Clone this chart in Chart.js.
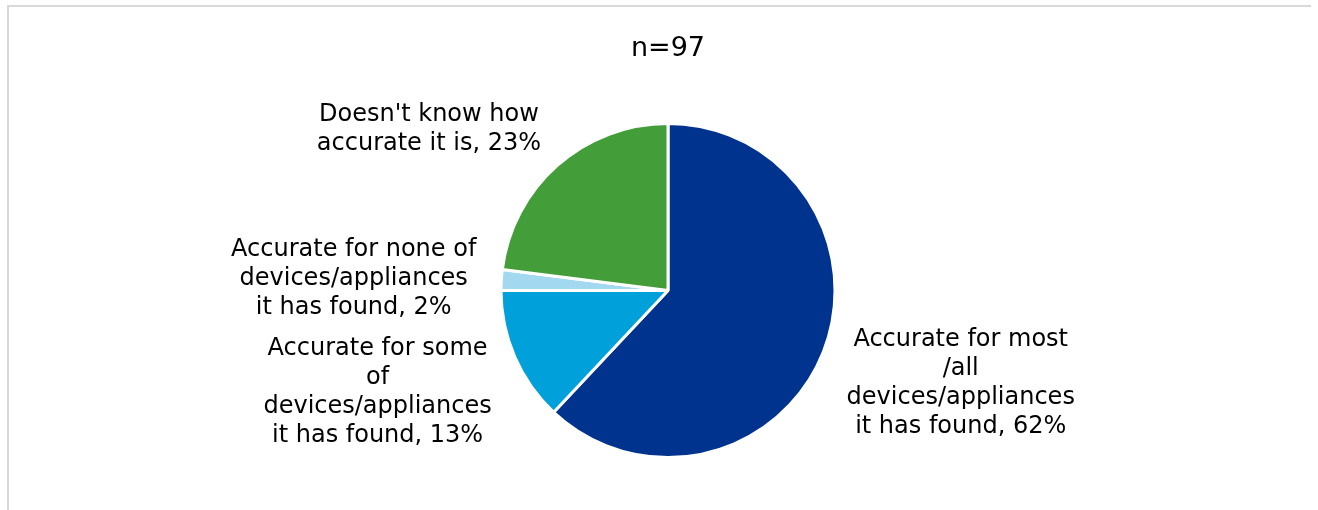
<!DOCTYPE html>
<html>
<head>
<meta charset="utf-8">
<script src="https://cdn.jsdelivr.net/npm/chart.js@4.4.1/dist/chart.umd.min.js"></script>
<style>
html,body{margin:0;padding:0;background:#fff;}
#wrap{position:relative;width:1318px;height:510px;}
</style>
</head>
<body>
<div id="wrap"><canvas id="c" width="1318" height="510"></canvas></div>
<script>
const titleText = "n=97";
const categories = [
  ["Accurate for most", "/all", "devices/appliances", "it has found, 62%"],
  ["Accurate for some", "of", "devices/appliances", "it has found, 13%"],
  ["Accurate for none of", "devices/appliances", "it has found, 2%"],
  ["Doesn't know how", "accurate it is, 23%"]
];
const values = [62, 13, 2, 23];
const colors = ["#00338D", "#00A0DB", "#A2D9F1", "#439D39"];

const decor = {
  id: "decor",
  beforeDraw(chart) {
    const ctx = chart.ctx;
    ctx.save();
    ctx.strokeStyle = "#D9D9D9";
    ctx.lineWidth = 2;
    ctx.beginPath();
    ctx.moveTo(8, 510);
    ctx.lineTo(8, 6);
    ctx.lineTo(1311, 6);
    ctx.stroke();
    ctx.restore();
  },
  afterDraw(chart) {
    const ctx = chart.ctx;
    ctx.save();
    ctx.fillStyle = "#000";
    ctx.textAlign = "center";
    ctx.textBaseline = "middle";
    ctx.font = "27px 'DejaVu Sans'";
    const area = chart.chartArea;
    ctx.fillText(titleText, (area.left + area.right) / 2, 49);
    ctx.font = "24px 'DejaVu Sans'";
    const meta = chart.getDatasetMeta(0);
    const lh = 29;
    meta.data.forEach((arc, i) => {
      const p = arc.getProps(["x", "y", "startAngle", "endAngle", "outerRadius"], true);
      const mid = (p.startAngle + p.endAngle) / 2;
      const r = p.outerRadius * 1.15;
      const ax = p.x + Math.cos(mid) * r;
      let ay = p.y + Math.sin(mid) * r;
      const s = Math.sin(mid);
      if (s > 0.3) ay += 22 + (Math.cos(mid) < 0 ? 3 : 0);
      else if (s < -0.3) ay -= 17;
      const lines = chart.data.labels[i];
      const w = Math.max(...lines.map(l => ctx.measureText(l).width));
      const cx = Math.cos(mid) >= 0 ? ax + w / 2 : ax - w / 2;
      const top = ay - (lines.length - 1) * lh / 2;
      lines.forEach((l, k) => ctx.fillText(l, cx, top + k * lh));
    });
    ctx.restore();
  }
};

new Chart(document.getElementById("c"), {
  type: "pie",
  data: {
    labels: categories,
    datasets: [{
      data: values,
      backgroundColor: colors,
      borderColor: "#FFFFFF",
      borderWidth: 3,
      hoverOffset: 0
    }]
  },
  options: {
    responsive: false,
    animation: false,
    events: [],
    layout: { padding: { top: 122, bottom: 51, left: 18, right: 0 } },
    plugins: {
      legend: { display: false },
      tooltip: { enabled: false },
      title: { display: false }
    }
  },
  plugins: [decor]
});
</script>
</body>
</html>
